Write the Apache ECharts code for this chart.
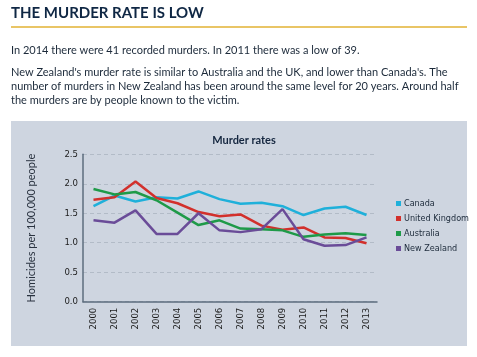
<!DOCTYPE html>
<html><head><meta charset="utf-8">
<script src="https://cdn.jsdelivr.net/npm/echarts@6/dist/echarts.min.js"></script>
<style>html,body{margin:0;padding:0;background:#fff}#c{width:477px;height:357px}</style>
</head><body><div id="c"></div>
<script>
const years = ['2000','2001','2002','2003','2004','2005','2006','2007','2008','2009','2010','2011','2012','2013'];
const canada = [1.62,1.80,1.70,1.77,1.75,1.87,1.74,1.66,1.68,1.62,1.47,1.58,1.61,1.47];
const uk = [1.73,1.77,2.04,1.76,1.67,1.52,1.45,1.48,1.29,1.22,1.26,1.09,1.08,0.99];
const australia = [1.91,1.82,1.86,1.72,1.51,1.30,1.38,1.24,1.23,1.21,1.10,1.14,1.16,1.13];
const newZealand = [1.38,1.34,1.55,1.15,1.15,1.50,1.21,1.18,1.23,1.57,1.06,0.95,0.96,1.09];
const seriesNames = ['Canada','United Kingdom','Australia','New Zealand'];
const colors = ['#1fb0da','#d2302c','#1e9a48','#6a4c98'];
const yTicks = [0,0.5,1,1.5,2,2.5];

const heading = 'THE MURDER RATE IS LOW';
const para1 = 'In 2014 there were 41 recorded murders. In 2011 there was a low of 39.';
const para2 = ["New Zealand's murder rate is similar to Australia and the UK, and lower than Canada's. The",
  'number of murders in New Zealand has been around the same level for 20 years. Around half',
  'the murders are by people known to the victim.'];

const chart = echarts.init(document.getElementById('c'));
const narrow = '"Liberation Sans Narrow","DejaVu Sans Condensed",Roboto,sans-serif';
const body = 'Lato,"Noto Sans",sans-serif';
const data = [canada, uk, australia, newZealand];
chart.setOption({
  animation: false,
  graphic: [
    {type:'rect', shape:{x:11,y:121,width:456,height:225}, style:{fill:'#ced5e0'}, z:-10},
    {type:'line', shape:{x1:11,y1:27,x2:467,y2:27}, style:{stroke:'#e2b233',lineWidth:1.5}},
    {type:'text', left:11, top:6, style:{text:heading, font:'bold 15px Lato, "Noto Sans", sans-serif', fill:'#0f2744'}},
    {type:'text', left:11, top:45, style:{text:para1, font:'11px '+body, fill:'#1c2a3a'}},
    {type:'text', left:11, top:65, style:{text:para2.join('\n'), font:'11px '+body, fill:'#1c2a3a', lineHeight:14}}
  ],
  title: {text:'Murder rates', left:239, top:130, textAlign:'center',
    textStyle:{fontSize:11, fontWeight:'bold', color:'#14263f', fontFamily:'Lato,sans-serif'}},
  legend: {orient:'vertical', left:391, top:194, itemWidth:5, itemHeight:5, itemGap:6,
    icon:'rect', data: seriesNames,
    textStyle:{fontSize:9, color:'#1c2a3a', fontFamily:narrow, padding:[0,0,0,-2]}},
  grid: {left:83, right:100, top:154.3, bottom:55.3},
  xAxis: {type:'category', data: years, boundaryGap:true,
    axisLine:{lineStyle:{color:'#5c6c7e', width:1.5}}, axisTick:{show:false},
    axisLabel:{rotate:90, fontSize:9.5, color:'#1c1c1c', fontFamily:narrow, margin:6}},
  yAxis: {type:'value', min:0, max:2.5, interval:0.5,
    name:'Homicides per 100,000 people', nameLocation:'middle', nameGap:46, nameRotate:90,
    nameTextStyle:{fontSize:11, color:'#2a3340', fontFamily:body},
    axisLine:{show:true, lineStyle:{color:'#5c6c7e', width:1.5}}, axisTick:{show:false},
    axisLabel:{fontSize:9.5, color:'#1c1c1c', fontFamily:narrow, margin:5,
      formatter: v => yTicks.includes(v) ? v.toFixed(1) : ''},
    splitLine:{lineStyle:{color:'#b2bbc7', type:[4,3], width:1}}},
  color: colors,
  series: seriesNames.map((n,i) => ({name:n, type:'line', data:data[i], symbol:'none',
    lineStyle:{width:2.5, color:colors[i]}, itemStyle:{color:colors[i]}}))
});
</script></body></html>
